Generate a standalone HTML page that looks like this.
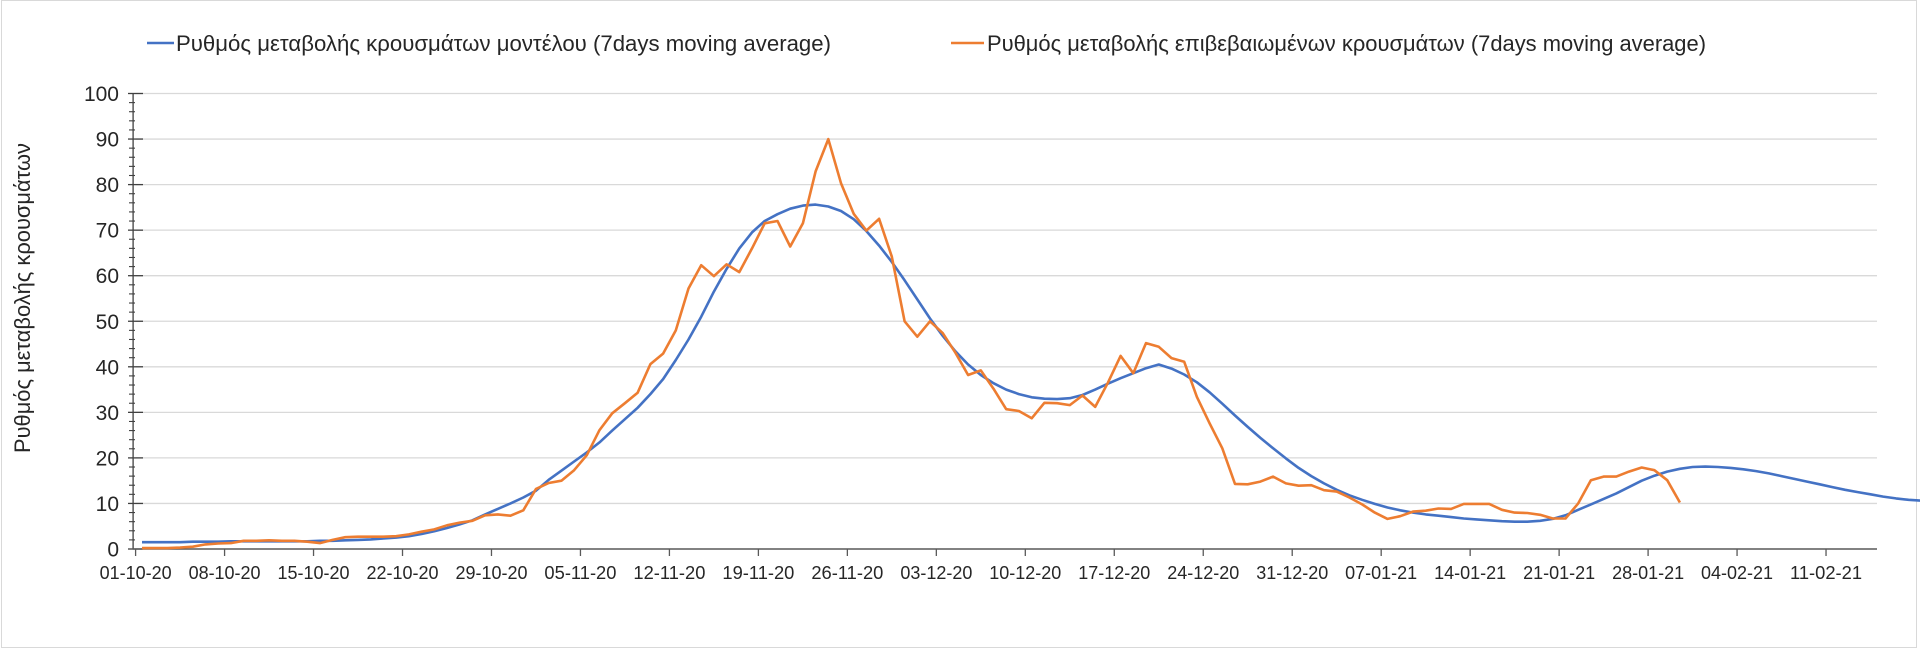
<!DOCTYPE html>
<html><head><meta charset="utf-8"><style>
html,body{margin:0;padding:0;background:#fff;}
svg{display:block;font-family:"Liberation Sans",sans-serif;}
</style></head><body>
<svg id="chart" width="1920" height="649" viewBox="0 0 1920 649" xmlns="http://www.w3.org/2000/svg">
<rect x="1.5" y="0.5" width="1915" height="647" fill="#fff" stroke="#d9d9d9" stroke-width="1"/>
<g id="legend">
 <g>
  <line x1="147" y1="43" x2="174" y2="43" stroke="#4472C4" stroke-width="2.5"/>
  <text x="176" y="51" font-size="22" fill="#262626" textLength="655" lengthAdjust="spacingAndGlyphs">Ρυθμός μεταβολής κρουσμάτων μοντέλου (7days moving average)</text>
 </g>
 <g>
  <line x1="951" y1="43" x2="984" y2="43" stroke="#ED7D31" stroke-width="2.5"/>
  <text x="987" y="51" font-size="22" fill="#262626" textLength="719" lengthAdjust="spacingAndGlyphs">Ρυθμός μεταβολής επιβεβαιωμένων κρουσμάτων (7days moving average)</text>
 </g>
</g>
<text transform="translate(30,298) rotate(-90)" text-anchor="middle" font-size="22" fill="#262626" textLength="310" lengthAdjust="spacingAndGlyphs">Ρυθμός μεταβολής κρουσμάτων</text>
<g id="grid"></g><g id="axes"></g><g id="series"></g>
</svg>
<script>
const yTicks = [0,10,20,30,40,50,60,70,80,90,100];
const xTickLabels = ["01-10-20","08-10-20","15-10-20","22-10-20","29-10-20","05-11-20","12-11-20","19-11-20","26-11-20","03-12-20","10-12-20","17-12-20","24-12-20","31-12-20","07-01-21","14-01-21","21-01-21","28-01-21","04-02-21","11-02-21"];
const modelValues = [1.5,1.5,1.5,1.5,1.6,1.6,1.6,1.7,1.7,1.7,1.7,1.7,1.7,1.7,1.8,1.8,1.9,2.0,2.1,2.3,
2.5,2.8,3.3,3.9,4.6,5.4,6.3,7.6,8.8,10,11.3,12.8,15.2,17.2,19.2,21.2,23.4,26,28.5,31,
34,37.3,41.5,46,51,56.5,61.5,66,69.5,72,73.5,74.7,75.4,75.6,75.2,74.2,72.4,69.8,66.6,63,
59,54.8,50.6,46.8,43.4,40.5,38.2,36.4,35,34,33.3,33,32.9,33.1,33.8,35,36.3,37.5,38.6,39.7,
40.5,39.6,38.3,36.6,34.4,31.9,29.3,26.8,24.4,22.1,19.9,17.8,16,14.4,13,11.8,10.8,9.9,9.1,8.5,
8,7.6,7.3,7,6.7,6.5,6.3,6.1,6.0,6.0,6.2,6.6,7.4,8.6,9.8,11,12.2,13.6,15,16.1,
17,17.6,18,18.1,18,17.8,17.5,17.1,16.6,16,15.4,14.8,14.2,13.6,13,12.5,12,11.5,11.1,10.8,10.6];
const confirmedValues = [0.2,0.2,0.2,0.3,0.5,1.0,1.2,1.3,1.8,1.8,1.9,1.8,1.8,1.6,1.3,2.0,2.6,2.7,2.7,2.7,
2.8,3.2,3.8,4.3,5.2,5.8,6.2,7.4,7.6,7.3,8.5,13.2,14.5,15,17.3,20.6,26.1,29.8,32,34.3,
40.6,42.9,48,57.2,62.3,59.9,62.5,60.8,66,71.5,72,66.4,71.5,82.9,90,80.3,73.6,69.9,72.5,64.2,
50,46.6,50,47.4,43.1,38.2,39.2,35.2,30.7,30.3,28.7,32.1,32,31.6,33.7,31.2,36.5,42.4,38.6,45.2,
44.4,41.9,41.1,33.4,27.6,22.1,14.3,14.2,14.8,15.9,14.4,13.9,14.0,12.9,12.6,11.3,9.8,8.0,6.6,7.2,
8.2,8.4,8.9,8.8,9.9,9.9,9.9,8.6,8.0,7.9,7.5,6.7,6.7,10.0,15.1,15.9,15.9,17.0,17.9,17.3,15.1,10.2];

const NS = "http://www.w3.org/2000/svg";
const X0 = 135.6, DAYW = 12.71, Y0 = 549, YTOP = 93.5, XEND = 1877;
function xScale(day){ return X0 + day*DAYW; }
function yScale(v){ return Y0 - (v/100)*(Y0-YTOP); }
function mk(tag, attrs, parent){ const e=document.createElementNS(NS,tag); for(const k in attrs) e.setAttribute(k,attrs[k]); parent.appendChild(e); return e; }

const grid=document.getElementById('grid'), axes=document.getElementById('axes'), series=document.getElementById('series');
yTicks.forEach(t=>{
  const y=yScale(t);
  if(t>0){
    const gl=mk('line',{x1:X0,x2:XEND,y1:y,y2:y,stroke:'#d9d9d9','stroke-width':1.3},grid);
    
    
  }
  const tk=mk('line',{x1:128,x2:143,y1:y,y2:y,stroke:'#404040','stroke-width':1.3},axes);
  
  
  const lb=mk('text',{x:119,y:y+7.5,'text-anchor':'end','font-size':21,fill:'#262626'},axes);
  lb.textContent=t;
  
  
});
for(let m=2;m<100;m+=2){
  if(m%10===0) continue;
  const y=yScale(m);
  const mt=mk('line',{x1:129,x2:135,y1:y,y2:y,stroke:'#404040','stroke-width':1.1},axes);
  
  
}
const ya=mk('line',{x1:X0-2.5,x2:X0-2.5,y1:YTOP,y2:Y0,stroke:'#404040','stroke-width':1.3},axes);


const xa=mk('line',{x1:X0-3,x2:XEND,y1:Y0,y2:Y0,stroke:'#595959','stroke-width':1.5},axes);


xTickLabels.forEach((lab,i)=>{
  const x=xScale(i*7);
  const tk=mk('line',{x1:x,x2:x,y1:Y0,y2:Y0+7,stroke:'#595959','stroke-width':1.3},axes);
  
  
  const t=mk('text',{x:x,y:Y0+30,'text-anchor':'middle','font-size':18,fill:'#262626',textLength:72,lengthAdjust:'spacingAndGlyphs'},axes);
  t.textContent=lab;
  
  
});
function drawLine(vals,color,name){
  const d=vals.map((v,i)=>(i?'L':'M')+xScale(i+0.5).toFixed(1)+' '+yScale(v).toFixed(1)).join(' ');
  const p=mk('path',{d:d,fill:'none',stroke:color,'stroke-width':2.6,'stroke-linejoin':'round'},series);
  
  
}
drawLine(modelValues,'#4472C4','model-rate-line');
drawLine(confirmedValues,'#ED7D31','confirmed-rate-line');
</script>
</body></html>
